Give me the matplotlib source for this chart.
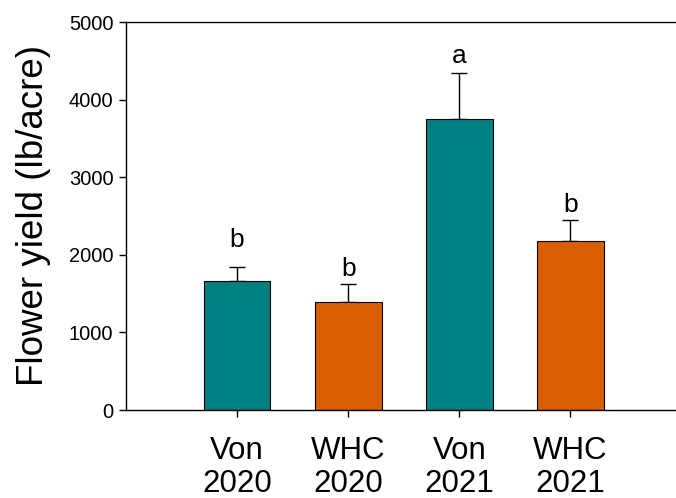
import matplotlib
matplotlib.use("Agg")
import matplotlib.pyplot as plt

plt.rcParams['font.family'] = ['Liberation Sans', 'DejaVu Sans']

categories = ["Von\n2020", "WHC\n2020", "Von\n2021", "WHC\n2021"]
yields = [1662, 1396, 3754, 2178]
errors = [177, 224, 589, 270]
letters = ["b", "b", "a", "b"]
letter_y = [2100, 1727, 4472, 2552]
colors = ["#008080", "#D95F00", "#008080", "#D95F00"]

fig = plt.figure(figsize=(6.76, 4.98), dpi=100)
ax = fig.add_axes([126/676, 88/498, 1 - 126/676, (410-22)/498])

x = [1, 2, 3, 4]
ax.bar(x, yields, width=0.6, color=colors, edgecolor="black", linewidth=0.8, zorder=2)
ax.errorbar(x, yields, yerr=[[0]*4, errors], fmt="none", ecolor="black",
            elinewidth=1, capsize=6, capthick=1, zorder=1)
for xi, t, ly in zip(x, letters, letter_y):
    ax.text(xi, ly, t, ha="center", va="baseline", fontsize=19)

ax.set_xlim(0, 4.95)
ax.set_ylim(0, 5000)
ax.set_yticks(range(0, 5001, 1000))
ax.set_xticks(x)
ax.set_xticklabels(categories, fontsize=22.5, linespacing=1.1)
ax.tick_params(axis="y", direction="out", length=5, labelsize=14.5, width=1, pad=4)
ax.tick_params(axis="x", direction="out", length=5, width=1, pad=14)
ax.spines["right"].set_visible(False)
for s in ["left", "bottom", "top"]:
    ax.spines[s].set_linewidth(1)
ax.set_ylabel("Flower yield (lb/acre)", fontsize=26.5, labelpad=13)

fig.savefig("out.png", dpi=100)
